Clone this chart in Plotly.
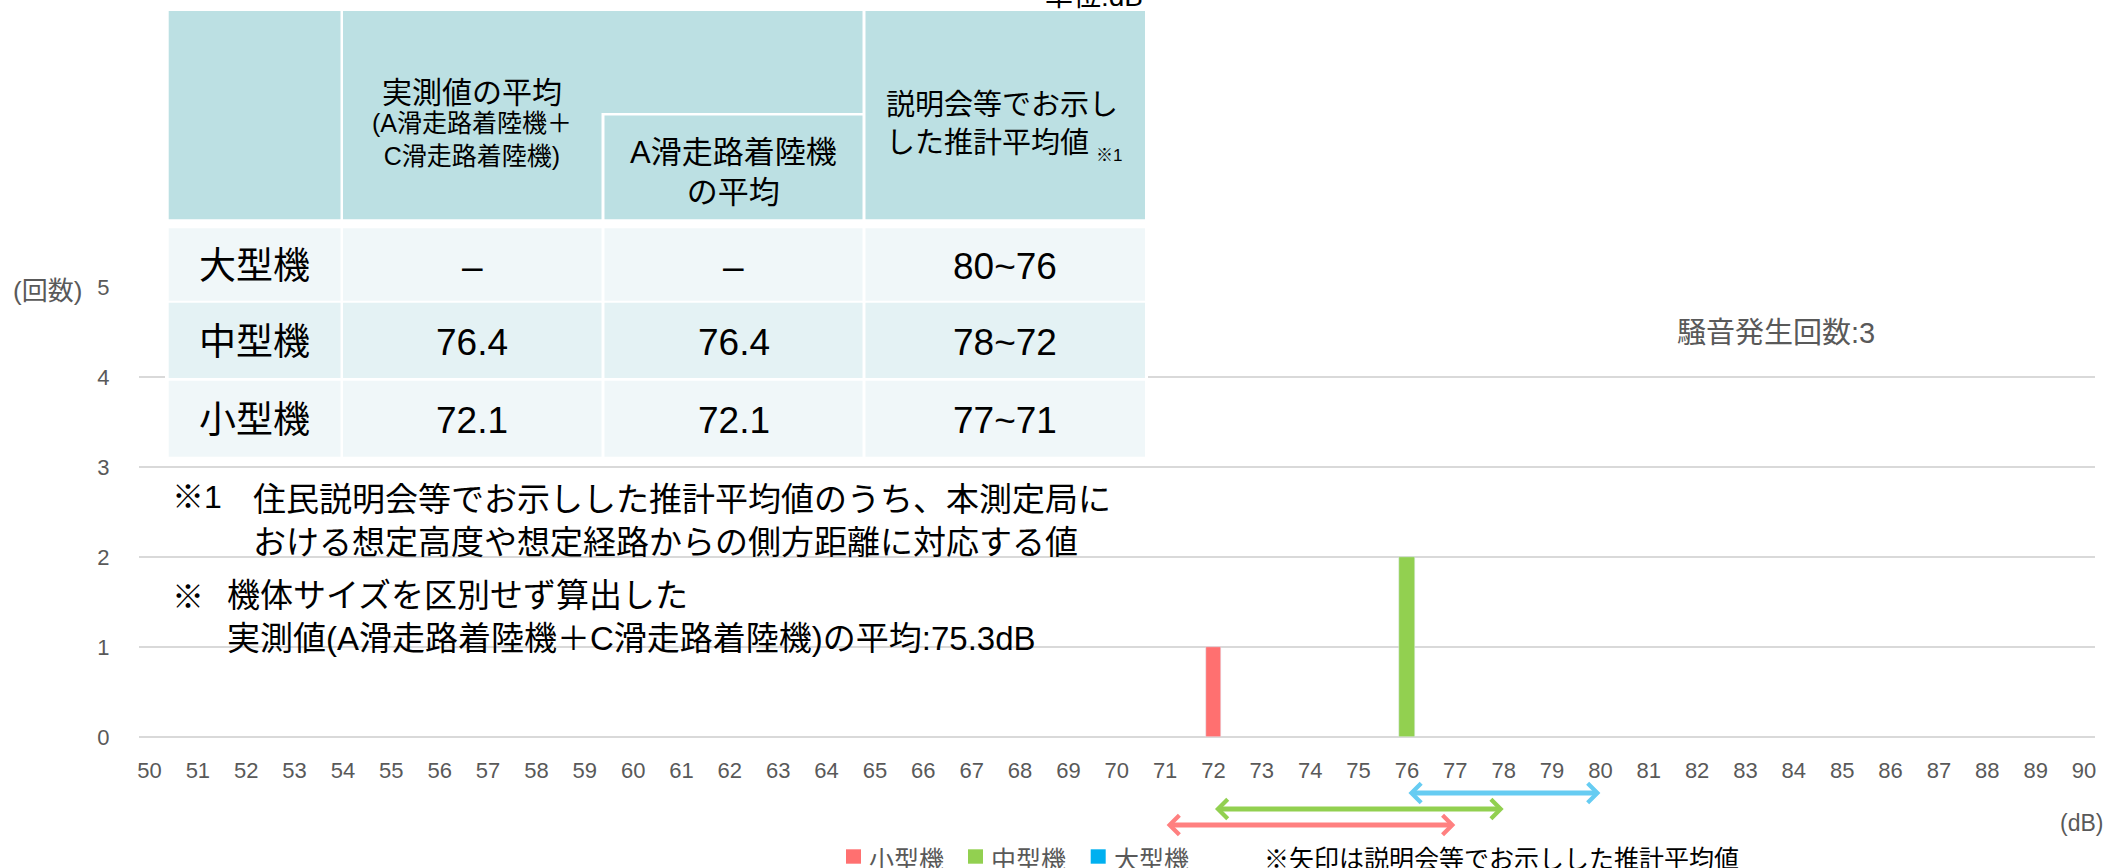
import plotly.graph_objects as go

# ---------------- data ----------------
size_names = ["小型機", "中型機", "大型機"]          # small, medium, large
small_db = [72]
small_counts = [1]
medium_db = [76]
medium_counts = [2]
large_db = []
large_counts = []

x_tick_values = list(range(50, 91))
y_tick_values = [0, 1, 2, 3, 4, 5]

measured_avg_all = [72.1, 76.4, None]   # A+C runway landings
measured_avg_a = [72.1, 76.4, None]     # A runway landings
est_high = [77, 78, 80]                 # estimated averages shown at briefings
est_low = [71, 72, 76]
overall_avg = 75.3

# ---------------- styles ----------------
BAR_COLORS = ["#FF7070", "#92D050", "#00B0F0"]
ARROW_COLORS = ["#FF8080", "#92D050", "#66CCF2"]
ARROW_Y_PX = [825, 809, 793]
BAR_WIDTH = 0.33
GRAY = "#595959"
GRID = "#D9D9D9"
HEAD_BG = "#BCE0E3"
ROW_BG = ["#F0F7F9", "#E4F2F4", "#F0F7F9"]
JP = "Noto Sans CJK JP"
MIX = "Liberation Sans, Noto Sans CJK JP"

W, H = 2112, 868
L, R, T, B = 139, 2095, 287, 737


def px(x):
    return (x - L) / (R - L)


def py(y):
    return (B - y) / (B - T)


fig = go.Figure()
series = [(small_db, small_counts), (medium_db, medium_counts), (large_db, large_counts)]
for name, (xs, ys), col in zip(size_names, series, BAR_COLORS):
    fig.add_trace(go.Bar(x=xs, y=ys, name=name, marker_color=col,
                         width=[BAR_WIDTH] * len(xs), showlegend=False))

shapes = []
annotations = []


def rect(x0, y0, x1, y1, color):
    shapes.append(dict(type="rect", xref="paper", yref="paper",
                       x0=px(x0), x1=px(x1), y0=py(y1), y1=py(y0),
                       fillcolor=color, line=dict(width=0), layer="above"))


def text(x, y, s, size, color="black", xanchor="center", family=MIX, align="center"):
    annotations.append(dict(xref="paper", yref="paper", x=px(x), y=py(y), text=s,
                            showarrow=False, xanchor=xanchor, yanchor="middle", align=align,
                            font=dict(size=size, color=color, family=family)))


# ---------------- table ----------------
rect(165, 8, 1148, 459, "white")
col_x = [(168.7, 340.5), (343, 601.5), (604.5, 862.5), (865.5, 1145)]
# header
rect(168.7, 11, 340.5, 219.3, HEAD_BG)
rect(343, 11, 862.5, 113, HEAD_BG)
rect(343, 113, 601.5, 219.3, HEAD_BG)
rect(604.5, 115.5, 862.5, 219.3, HEAD_BG)
rect(865.5, 11, 1145, 219.3, HEAD_BG)
text(472, 90, "実測値の平均", 30, family=JP)
text(472, 139.5, "(A滑走路着陸機＋<br>C滑走路着陸機)", 25, family=MIX)
text(733.5, 173, "A滑走路着陸機<br>の平均", 31, family=MIX)
text(884, 121, "説明会等でお示し<br>した推計平均値", 29, xanchor="left", family=JP, align="left")
text(1094, 155, "※1", 17, xanchor="left", family=MIX)

rows_y = [(228.3, 300.7), (302.7, 378), (380.7, 456.7)]
order = [2, 1, 0]  # table rows: large, medium, small


def fmt(v):
    return "–" if v is None else f"{v:.1f}"


for r, idx in enumerate(order):
    y0, y1 = rows_y[r]
    for (x0, x1) in col_x:
        rect(x0, y0, x1, y1, ROW_BG[r])
    yc = (y0 + y1) / 2 + 2
    cells = [size_names[idx], fmt(measured_avg_all[idx]), fmt(measured_avg_a[idx]),
             f"{est_high[idx]}~{est_low[idx]}"]
    for (x0, x1), s in zip(col_x, cells):
        text((x0 + x1) / 2, yc, s, 37, family=MIX)

text(1145, -4, "単位:dB", 28, xanchor="right", family=MIX)

# ---------------- notes ----------------
text(170, 497, "※1", 32, xanchor="left", family=MIX)
text(251, 518, "住民説明会等でお示しした推計平均値のうち、本測定局に<br>"
               "おける想定高度や想定経路からの側方距離に対応する値",
     33, xanchor="left", family=JP, align="left")
text(170, 597, "※", 32, xanchor="left", family=MIX)
text(225, 617, "機体サイズを区別せず算出した<br>"
               f"実測値(A滑走路着陸機＋C滑走路着陸機)の平均:{overall_avg}dB",
     33, xanchor="left", family=MIX, align="left")

total = sum(small_counts) + sum(medium_counts) + sum(large_counts)
text(1776, 333, f"騒音発生回数:{total}", 29, color=GRAY, family=MIX)
text(84, 291, "(回数)", 26, color=GRAY, xanchor="right", family=MIX)
text(2058, 823, "(dB)", 23, color=GRAY, xanchor="left", family=MIX)
text(1262, 857, "※矢印は説明会等でお示しした推計平均値", 25, xanchor="left", family=JP)

# ---------------- manual legend ----------------
leg_sq_x = [846, 968, 1090.7]
for name, col, x0 in zip(size_names, BAR_COLORS, leg_sq_x):
    rect(x0, 849.3, x0 + 15, 863.7, col)
    text(x0 + 21, 858, name, 25, color=GRAY, xanchor="left", family=JP)

# ---------------- estimated-range arrows ----------------
for lo, hi, col, ypx in zip(est_low, est_high, ARROW_COLORS, ARROW_Y_PX):
    annotations.append(dict(x=hi, y=py(ypx), xref="x", yref="paper",
                            ax=lo, ay=0, axref="x", ayref="pixel",
                            text="", showarrow=True, arrowside="end+start",
                            arrowhead=4, startarrowhead=4,
                            arrowsize=0.75, startarrowsize=0.75,
                            arrowwidth=5, arrowcolor=col, standoff=0, startstandoff=0))

fig.update_layout(
    width=W, height=H,
    margin=dict(l=L, r=W - R, t=T, b=H - B, autoexpand=False),
    plot_bgcolor="white", paper_bgcolor="white",
    showlegend=False, bargap=0,
    shapes=shapes, annotations=annotations,
    xaxis=dict(range=[49.783, 90.227], tickmode="array", tickvals=x_tick_values,
               ticktext=[str(v) for v in x_tick_values], showgrid=False, zeroline=False,
               showline=False, ticks="outside", ticklen=14, tickcolor="rgba(0,0,0,0)",
               tickfont=dict(size=22, color=GRAY, family="Liberation Sans")),
    yaxis=dict(range=[0, 5], tickmode="array", tickvals=y_tick_values, showgrid=True,
               gridcolor=GRID, gridwidth=2, zeroline=True, zerolinecolor=GRID,
               zerolinewidth=2, showline=False, ticks="outside", ticklen=24,
               tickcolor="rgba(0,0,0,0)",
               tickfont=dict(size=22, color=GRAY, family="Liberation Sans")),
)

fig.write_html("out.html", config={"displayModeBar": False},
               post_script="document.body.style.margin='0';document.body.style.overflow='hidden';")
